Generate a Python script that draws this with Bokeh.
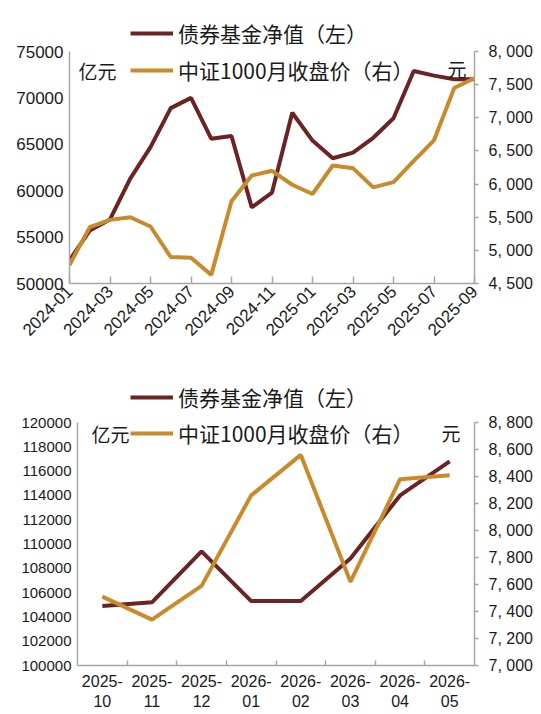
from bokeh.plotting import figure
from bokeh.models import (Range1d, LinearAxis, FixedTicker, Legend, LegendItem, Label)
from bokeh.layouts import column
from bokeh.embed import file_html
from bokeh.resources import INLINE
import math

# ---------------- data ----------------
months_top = ["2024-01", "2024-02", "2024-03", "2024-04", "2024-05", "2024-06", "2024-07",
              "2024-08", "2024-09", "2024-10", "2024-11", "2024-12", "2025-01", "2025-02",
              "2025-03", "2025-04", "2025-05", "2025-06", "2025-07", "2025-08", "2025-09"]
bond_top = [52500, 55700, 56900, 61300, 64700, 68900, 70000, 65600, 65900, 58200, 59800,
            68400, 65400, 63500, 64100, 65700, 67800, 72900, 72400, 72000, 72000]
csi_top = [4780, 5350, 5460, 5500, 5360, 4900, 4890, 4630, 5740, 6130, 6200,
           5990, 5850, 6280, 6240, 5950, 6030, 6350, 6660, 7450, 7600]

months_bot = ["2025-\n10", "2025-\n11", "2025-\n12", "2026-\n01",
              "2026-\n02", "2026-\n03", "2026-\n04", "2026-\n05"]
bond_bot = [104900, 105200, 109400, 105300, 105300, 108800, 114000, 116800]
csi_bot = [7510, 7340, 7590, 8260, 8560, 7620, 8380, 8410]

left_ticks_top = [50000, 55000, 60000, 65000, 70000, 75000]
right_ticks_top = [4500, 5000, 5500, 6000, 6500, 7000, 7500, 8000]
right_labels_top = ["4, 500", "5, 000", "5, 500", "6, 000", "6, 500", "7, 000", "7, 500", "8, 000"]
left_ticks_bot = [100000, 102000, 104000, 106000, 108000, 110000, 112000, 114000, 116000, 118000, 120000]
right_ticks_bot = [7000, 7200, 7400, 7600, 7800, 8000, 8200, 8400, 8600, 8800]
right_labels_bot = ["7, 000", "7, 200", "7, 400", "7, 600", "7, 800", "8, 000", "8, 200", "8, 400", "8, 600", "8, 800"]

name_bond = "债券基金净值（左）"
name_csi = "中证1000月收盘价（右）"

DARK = "#6B2323"
ORANGE = "#C98A2C"
AXIS = "#A6A6A6"
NUM_FONT = "Liberation Sans"
CJK_FONT = "Noto Sans CJK SC"


def style_axis(ax, size):
    ax.axis_line_color = AXIS
    ax.axis_line_width = 1.5
    ax.major_tick_line_color = AXIS
    ax.major_tick_line_width = 1.5
    ax.minor_tick_line_color = AXIS
    ax.minor_tick_line_width = 1.5
    ax.minor_tick_in = 0
    ax.minor_tick_out = 0
    ax.major_label_text_font = NUM_FONT
    ax.major_label_text_font_size = size
    ax.major_label_text_color = "#1a1a1a"


def make_legend(p, r_bond, r_csi, loc, spacing):
    leg = Legend(items=[LegendItem(label=name_bond, renderers=[r_bond]),
                        LegendItem(label=name_csi, renderers=[r_csi])],
                 location=loc)
    leg.label_text_font = CJK_FONT
    leg.label_text_font_size = "21px"
    leg.label_text_color = "#1a1a1a"
    leg.glyph_width = 43
    leg.glyph_height = 20
    leg.label_height = 20
    leg.label_standoff = 5
    leg.spacing = spacing
    leg.padding = 0
    leg.margin = 0
    leg.border_line_alpha = 0
    leg.background_fill_alpha = 0
    p.add_layout(leg)


def unit_label(p, x, y, text):
    p.add_layout(Label(x=x, y=y, x_units="screen", y_units="screen", text=text,
                       text_font=CJK_FONT, text_font_size="19px", text_baseline="middle",
                       text_color="#1a1a1a"))


# ---------------- top chart ----------------
t_lo, t_hi = left_ticks_top[0], left_ticks_top[-1]
r_lo, r_hi = right_ticks_top[0], right_ticks_top[-1]
ext_top = 41 / 232
xt = list(range(len(months_top)))
p1 = figure(width=541, height=360, x_range=Range1d(0, len(months_top) - 1),
            y_range=Range1d(t_lo, t_hi + (t_hi - t_lo) * ext_top),
            output_backend="svg", toolbar_location=None, frame_align=False,
            min_border_left=69, min_border_right=67, min_border_top=10, min_border_bottom=77)
p1.extra_y_ranges = {"right": Range1d(r_lo, r_hi + (r_hi - r_lo) * ext_top)}
p1.xgrid.visible = False
p1.ygrid.visible = False
p1.outline_line_color = None

r1 = p1.line(xt, bond_top, line_color=DARK, line_width=4)
r2 = p1.line(xt, csi_top, line_color=ORANGE, line_width=4, y_range_name="right")

ax = p1.xaxis[0]
ax.ticker = FixedTicker(ticks=xt[::2])
ax.major_label_overrides = {i: months_top[i] for i in xt[::2]}
ax.major_label_orientation = math.pi / 4
style_axis(ax, "17px")
ax.major_tick_in = 7
ax.major_tick_out = 0

ay = p1.yaxis[0]
ay.ticker = FixedTicker(ticks=left_ticks_top)
ay.formatter.use_scientific = False
ay.bounds = (t_lo, t_hi)
style_axis(ay, "17px")
ay.major_tick_in = 0
ay.major_tick_out = 0
ay.major_label_standoff = 6

ar = LinearAxis(y_range_name="right", ticker=FixedTicker(ticks=right_ticks_top), bounds=(r_lo, r_hi))
ar.major_label_overrides = dict(zip(right_ticks_top, right_labels_top))
style_axis(ar, "16px")
ar.major_tick_in = 0
ar.major_tick_out = 4
ar.major_label_standoff = 10
p1.add_layout(ar, "right")

make_legend(p1, r1, r2, (61, 198), 7)
unit_label(p1, 9, 213, "亿元")
unit_label(p1, 378, 215, "元")

# ---------------- bottom chart ----------------
b_lo, b_hi = left_ticks_bot[0], left_ticks_bot[-1]
s_lo, s_hi = right_ticks_bot[0], right_ticks_bot[-1]
ext_bot = 52 / 243
xb = [i + 0.5 for i in range(len(months_bot))]
p2 = figure(width=541, height=354, x_range=Range1d(0, len(months_bot)),
            y_range=Range1d(b_lo, b_hi + (b_hi - b_lo) * ext_bot),
            output_backend="svg", toolbar_location=None, frame_align=False,
            min_border_left=77, min_border_right=67, min_border_top=10, min_border_bottom=49)
p2.extra_y_ranges = {"right": Range1d(s_lo, s_hi + (s_hi - s_lo) * ext_bot)}
p2.xgrid.visible = False
p2.ygrid.visible = False
p2.outline_line_color = None

r3 = p2.line(xb, bond_bot, line_color=DARK, line_width=4)
r4 = p2.line(xb, csi_bot, line_color=ORANGE, line_width=4, y_range_name="right")

bx = p2.xaxis[0]
bx.ticker = FixedTicker(ticks=xb, minor_ticks=list(range(1, len(months_bot))))
bx.major_label_overrides = dict(zip(xb, months_bot))
style_axis(bx, "16px")
bx.major_tick_in = 0
bx.major_tick_out = 0
bx.minor_tick_in = 5
bx.minor_tick_out = 0
bx.major_label_standoff = 7

by = p2.yaxis[0]
by.ticker = FixedTicker(ticks=left_ticks_bot)
by.formatter.use_scientific = False
by.bounds = (b_lo, b_hi)
style_axis(by, "15px")
by.major_tick_in = 0
by.major_tick_out = 0
by.major_label_standoff = 6

br = LinearAxis(y_range_name="right", ticker=FixedTicker(ticks=right_ticks_bot), bounds=(s_lo, s_hi))
br.major_label_overrides = dict(zip(right_ticks_bot, right_labels_bot))
style_axis(br, "16px")
br.major_tick_in = 0
br.major_tick_out = 4
br.major_label_standoff = 10
p2.add_layout(br, "right")

make_legend(p2, r3, r4, (53, 217), 6)
unit_label(p2, 14, 232, "亿元")
unit_label(p2, 364, 233, "元")

page = column(p1, p2, spacing=0)
open("out.html", "w").write(file_html(page, INLINE))
